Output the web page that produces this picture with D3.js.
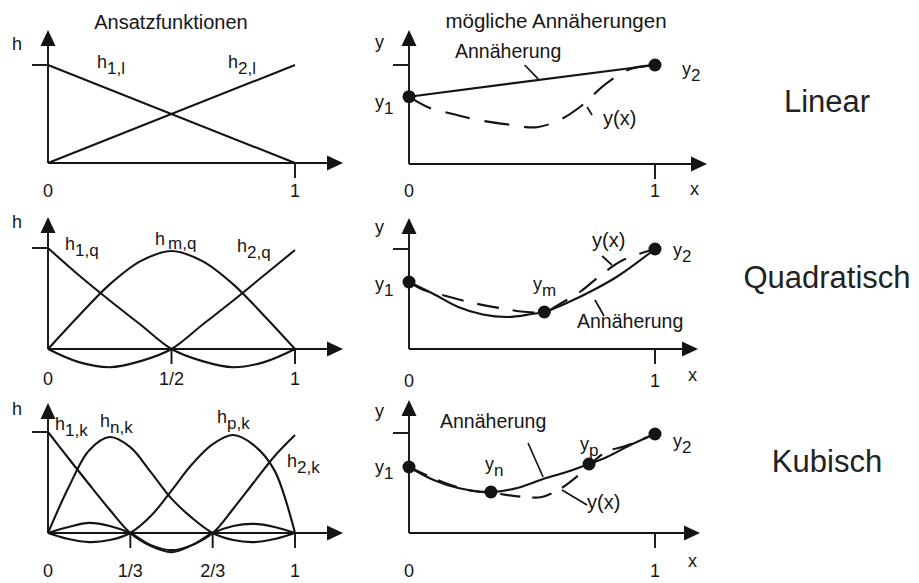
<!DOCTYPE html>
<html>
<head>
<meta charset="utf-8">
<script src="https://cdn.jsdelivr.net/npm/d3@7"></script>
<style>
  body { margin: 0; background: #fff; }
  text { font-family: "Liberation Sans", Arial, sans-serif; fill: #161616; }
</style>
</head>
<body>
<svg id="chart" width="919" height="583"></svg>
<script>
// ---- Shape functions (left column), x in [0,1], value h ----
const xLin  = [0, 1];
const h1Lin = [1, 0];
const h2Lin = [0, 1];

const xQuad  = [0, 0.125, 0.25, 0.375, 0.5, 0.625, 0.75, 0.875, 1];
const h1Quad = [1, 0.73, 0.48, 0.24, 0, -0.12, -0.18, -0.13, 0];
const hmQuad = [0, 0.33, 0.64, 0.87, 0.97, 0.87, 0.64, 0.33, 0];
const h2Quad = [0, -0.13, -0.18, -0.12, 0, 0.24, 0.48, 0.73, 0.98];

const xCub  = [0, 0.083, 0.167, 0.25, 0.333, 0.417, 0.5, 0.583, 0.667, 0.75, 0.833, 0.917, 1];
const h1Cub = [1, 0.74, 0.48, 0.23, 0, -0.13, -0.19, -0.12, 0, 0.07, 0.09, 0.06, 0];
const hnCub = [0, 0.45, 0.82, 0.95, 0.85, 0.60, 0.34, 0.15, 0, -0.07, -0.09, -0.06, 0];
const hpCub = [0, -0.06, -0.09, -0.07, 0, 0.17, 0.42, 0.68, 0.88, 0.97, 0.87, 0.62, 0];
const h2Cub = [0, 0.06, 0.10, 0.07, 0, -0.12, -0.17, -0.12, 0, 0.24, 0.50, 0.76, 0.97];

// ---- Approximations (right column) ----
// nodes
const linNodeX  = [0, 1];
const linNodeY  = [0.68, 1.0];
const quadNodeX = [0, 0.55, 1];
const quadNodeY = [0.67, 0.37, 1.0];
const cubNodeX  = [0, 0.333, 0.732, 1];
const cubNodeY  = [0.66, 0.41, 0.69, 0.99];

// exact solution y(x) (dashed)
const linExactX  = [0, 0.08, 0.17, 0.28, 0.40, 0.52, 0.62, 0.70, 0.80, 0.90, 1.0];
const linExactY  = [0.68, 0.57, 0.51, 0.445, 0.40, 0.372, 0.455, 0.586, 0.81, 0.96, 1.0];
const quadExactX = [0, 0.06, 0.15, 0.27, 0.38, 0.48, 0.55, 0.62, 0.70, 0.78, 0.87, 1.0];
const quadExactY = [0.67, 0.59, 0.53, 0.455, 0.405, 0.37, 0.37, 0.46, 0.58, 0.74, 0.89, 1.0];
const cubExactX  = [0, 0.07, 0.17, 0.26, 0.34, 0.47, 0.54, 0.62, 0.70, 0.80, 0.88, 1.0];
const cubExactY  = [0.66, 0.58, 0.48, 0.42, 0.40, 0.36, 0.36, 0.45, 0.60, 0.81, 0.87, 0.99];

// approximating polynomials (solid)
const quadApproxX = [0, 0.1, 0.2, 0.3, 0.4, 0.5, 0.55, 0.65, 0.75, 0.85, 1.0];
const quadApproxY = [0.67, 0.55, 0.42, 0.345, 0.32, 0.35, 0.37, 0.47, 0.59, 0.73, 1.0];
const cubApproxX  = [0, 0.1, 0.2, 0.333, 0.44, 0.545, 0.64, 0.732, 0.805, 0.9, 1.0];
const cubApproxY  = [0.66, 0.53, 0.45, 0.41, 0.45, 0.54, 0.61, 0.69, 0.76, 0.88, 0.99];

// tick labels
const linTicks  = [0, 1],            linTickText  = ["0", "1"];
const quadTicks = [0, 0.5, 1],       quadTickText = ["0", "1/2", "1"];
const cubTicks  = [0, 1/3, 2/3, 1],  cubTickText  = ["0", "1/3", "2/3", "1"];

// ---------------------------------------------------------------
const INK = "#141414";
const svg = d3.select("#chart");

const curvePath = (xs, ys, sx, sy) =>
  d3.line().curve(d3.curveCatmullRom.alpha(0.5))
    .x(i => sx(xs[i])).y(i => sy(ys[i]))(d3.range(xs.length));

function frame(sx, sy, o) {
  const g = svg.append("g");
  const x0 = sx(0), y0 = sy(0);
  const stroke = s => s.attr("stroke", INK).attr("stroke-width", 1.9).attr("fill", "none");
  // vertical axis with arrow
  g.append("line").attr("x1", x0).attr("y1", y0).attr("x2", x0).attr("y2", o.tipY + 12).call(stroke);
  g.append("path").attr("d", `M${x0},${o.tipY}L${x0 - 7.5},${o.tipY + 16}L${x0 + 7.5},${o.tipY + 16}Z`).attr("fill", INK);
  // horizontal axis with arrow
  g.append("line").attr("x1", x0).attr("y1", y0).attr("x2", o.tipX - 12).attr("y2", y0).call(stroke);
  g.append("path").attr("d", `M${o.tipX},${y0}L${o.tipX - 16},${y0 - 7.5}L${o.tipX - 16},${y0 + 7.5}Z`).attr("fill", INK);
  // unit mark on vertical axis
  g.append("line").attr("x1", x0 - 16).attr("x2", x0).attr("y1", sy(1)).attr("y2", sy(1)).call(stroke);
  // ticks on horizontal axis
  o.ticks.forEach((t, i) => {
    if (t > 0) g.append("line").attr("x1", sx(t)).attr("x2", sx(t)).attr("y1", y0).attr("y2", y0 + 15).call(stroke);
    g.append("text").attr("x", sx(t)).attr("y", o.labelY).attr("text-anchor", "middle")
      .attr("font-size", 18).text(o.tickText[i]);
  });
  return g;
}

function label(x, y, main, sub, opts = {}) {
  const size = opts.size || 18;
  const t = svg.append("text").attr("x", x).attr("y", y).attr("font-size", size);
  t.append("tspan").text(main);
  if (sub) t.append("tspan").attr("dx", opts.gap || 0).attr("dy", opts.dy || 6)
    .attr("font-size", opts.subSize || 17).text(sub);
  return t;
}

function draw(g, xs, ys, sx, sy, dash) {
  const p = g.append("path").attr("d", curvePath(xs, ys, sx, sy))
    .attr("fill", "none").attr("stroke", INK).attr("stroke-width", 2.1)
    .attr("stroke-linejoin", "round");
  if (dash) p.attr("stroke-dasharray", dash);
  return p;
}

function leader(sx, sy, a, b) {
  svg.append("line").attr("x1", sx(a[0])).attr("y1", sy(a[1])).attr("x2", sx(b[0])).attr("y2", sy(b[1]))
    .attr("stroke", INK).attr("stroke-width", 1.7);
}

function dots(g, xs, ys, sx, sy) {
  g.selectAll(null).data(d3.range(xs.length)).join("circle")
    .attr("cx", i => sx(xs[i])).attr("cy", i => sy(ys[i])).attr("r", 6.5).attr("fill", INK);
}

// ---- scales ----
const sxL = d3.scaleLinear().domain([0, 1]).range([48, 295]);
const sxR = d3.scaleLinear().domain([0, 1]).range([409, 655]);
const syL = [
  d3.scaleLinear().domain([0, 1]).range([163, 65]),
  d3.scaleLinear().domain([0, 1]).range([349, 248]),
  d3.scaleLinear().domain([0, 1]).range([533, 432])
];
const syR = [
  d3.scaleLinear().domain([0, 1]).range([164, 65]),
  d3.scaleLinear().domain([0, 1]).range([349, 249]),
  d3.scaleLinear().domain([0, 1]).range([533, 433])
];

// ---- headings ----
svg.append("text").attr("x", 171).attr("y", 29).attr("text-anchor", "middle").attr("font-size", 20).text("Ansatzfunktionen");
svg.append("text").attr("x", 556).attr("y", 28).attr("text-anchor", "middle").attr("font-size", 20.5).text("mögliche Annäherungen");
[["Linear", 112], ["Quadratisch", 288], ["Kubisch", 472]].forEach(([t, y]) =>
  svg.append("text").attr("x", 827).attr("y", y).attr("text-anchor", "middle")
    .attr("font-size", 31).style("fill", "#222").text(t));

// ---- row 1: linear ----
let g = frame(sxL, syL[0], { tipX: 343, tipY: 30, ticks: linTicks, tickText: linTickText, labelY: 197 });
draw(g, xLin, h1Lin, sxL, syL[0]);
draw(g, xLin, h2Lin, sxL, syL[0]);
label(12, 50, "h");
label(97, 68, "h", "1,l");
label(228, 68, "h", "2,l");

g = frame(sxR, syR[0], { tipX: 707, tipY: 30, ticks: linTicks, tickText: linTickText, labelY: 197 });
draw(g, linExactX, linExactY, sxR, syR[0], "25,15");
draw(g, linNodeX, linNodeY, sxR, syR[0]);
dots(g, linNodeX, linNodeY, sxR, syR[0]);
label(375, 48, "y");
label(375, 108, "y", "1");
label(682, 75, "y", "2");
svg.append("text").attr("x", 690).attr("y", 195).attr("font-size", 18).text("x");
svg.append("text").attr("x", 455).attr("y", 58).attr("font-size", 19.5).text("Annäherung");
svg.append("text").attr("x", 603).attr("y", 125).attr("font-size", 20).text("y(x)");
leader(sxR, syR[0], [0.47, 1.0], [0.525, 0.86]);
leader(sxR, syR[0], [0.724, 0.576], [0.744, 0.495]);

// ---- row 2: quadratic ----
g = frame(sxL, syL[1], { tipX: 343, tipY: 217, ticks: quadTicks, tickText: quadTickText, labelY: 385 });
draw(g, xQuad, h1Quad, sxL, syL[1]);
draw(g, xQuad, hmQuad, sxL, syL[1]);
draw(g, xQuad, h2Quad, sxL, syL[1]);
label(12, 228, "h");
label(65, 250, "h", "1,q");
label(155, 245, "h", "m,q", { gap: 3, dy: 4 });
label(237, 252, "h", "2,q");

g = frame(sxR, syR[1], { tipX: 698, tipY: 218, ticks: linTicks, tickText: linTickText, labelY: 387 });
draw(g, quadExactX, quadExactY, sxR, syR[1], "22,14");
draw(g, quadApproxX, quadApproxY, sxR, syR[1]);
dots(g, quadNodeX, quadNodeY, sxR, syR[1]);
label(375, 233, "y");
label(375, 290, "y", "1");
label(533, 290, "y", "m");
label(673, 256, "y", "2");
svg.append("text").attr("x", 688).attr("y", 381).attr("font-size", 18).text("x");
svg.append("text").attr("x", 592).attr("y", 247).attr("font-size", 20).text("y(x)");
svg.append("text").attr("x", 577).attr("y", 328).attr("font-size", 19.5).text("Annäherung");
leader(sxR, syR[1], [0.785, 0.93], [0.825, 0.84]);
leader(sxR, syR[1], [0.756, 0.49], [0.793, 0.33]);

// ---- row 3: cubic ----
g = frame(sxL, syL[2], { tipX: 343, tipY: 403, ticks: cubTicks, tickText: cubTickText, labelY: 577 });
draw(g, xCub, h1Cub, sxL, syL[2]);
draw(g, xCub, hnCub, sxL, syL[2]);
draw(g, xCub, hpCub, sxL, syL[2]);
draw(g, xCub, h2Cub, sxL, syL[2]);
label(12, 415, "h");
label(55, 430, "h", "1,k");
label(100, 427, "h", "n,k");
label(217, 423, "h", "p,k");
label(287, 467, "h", "2,k");

g = frame(sxR, syR[2], { tipX: 700, tipY: 400, ticks: linTicks, tickText: linTickText, labelY: 577 });
draw(g, cubExactX, cubExactY, sxR, syR[2], "20,12");
draw(g, cubApproxX, cubApproxY, sxR, syR[2]);
dots(g, cubNodeX, cubNodeY, sxR, syR[2]);
label(375, 417, "y");
label(375, 473, "y", "1");
label(485, 470, "y", "n");
label(580, 450, "y", "p");
label(673, 447, "y", "2");
svg.append("text").attr("x", 688).attr("y", 567).attr("font-size", 18).text("x");
svg.append("text").attr("x", 440).attr("y", 428).attr("font-size", 19.5).text("Annäherung");
svg.append("text").attr("x", 587).attr("y", 509).attr("font-size", 20).text("y(x)");
leader(sxR, syR[2], [0.484, 0.90], [0.545, 0.56]);
leader(sxR, syR[2], [0.622, 0.43], [0.724, 0.28]);
</script>
</body>
</html>
